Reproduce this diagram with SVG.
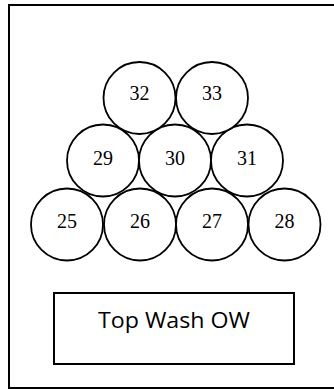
<svg xmlns="http://www.w3.org/2000/svg" width="334" height="389" viewBox="0 0 334 389">
  <style>
    .c { fill: #fff; stroke: #000; stroke-width: 1.8; }
    .n { font-family: "Liberation Serif", "Times New Roman", serif; font-size: 20px; text-anchor: middle; fill: #000; }
    .box { fill: #fff; stroke: #000; stroke-width: 2; }
  </style>
  <rect x="0" y="0" width="334" height="389" fill="#fff"/>
  <rect id="frame" x="9" y="5" width="330" height="383" fill="none" stroke="#000" stroke-width="2"/>
  <g id="connectors"></g>
  <g id="n25"><circle class="c" cx="67" cy="224.5" r="36"/><text class="n" x="67" y="228">25</text></g>
  <g id="n26"><circle class="c" cx="140" cy="224.5" r="36"/><text class="n" x="140" y="228">26</text></g>
  <g id="n27"><circle class="c" cx="212" cy="224.5" r="36"/><text class="n" x="212" y="228">27</text></g>
  <g id="n28"><circle class="c" cx="284.5" cy="224.5" r="36"/><text class="n" x="284.5" y="228">28</text></g>
  <g id="n29"><circle class="c" cx="103" cy="160.5" r="36"/><text class="n" x="103" y="165">29</text></g>
  <g id="n30"><circle class="c" cx="175" cy="160.5" r="36"/><text class="n" x="175" y="165">30</text></g>
  <g id="n31"><circle class="c" cx="247" cy="160.5" r="36"/><text class="n" x="247" y="165">31</text></g>
  <g id="n32"><circle class="c" cx="139.5" cy="98" r="36"/><text class="n" x="139.5" y="99.5">32</text></g>
  <g id="n33"><circle class="c" cx="212" cy="98" r="36"/><text class="n" x="212" y="99.5">33</text></g>
  <g id="topwash">
    <rect class="box" x="54" y="293" width="240" height="71"/>
    <text x="174" y="328" font-family="'Open Sans', 'Noto Sans', sans-serif" font-size="22" text-anchor="middle" textLength="152" lengthAdjust="spacingAndGlyphs" fill="#000">Top Wash OW</text>
  </g>
</svg>
